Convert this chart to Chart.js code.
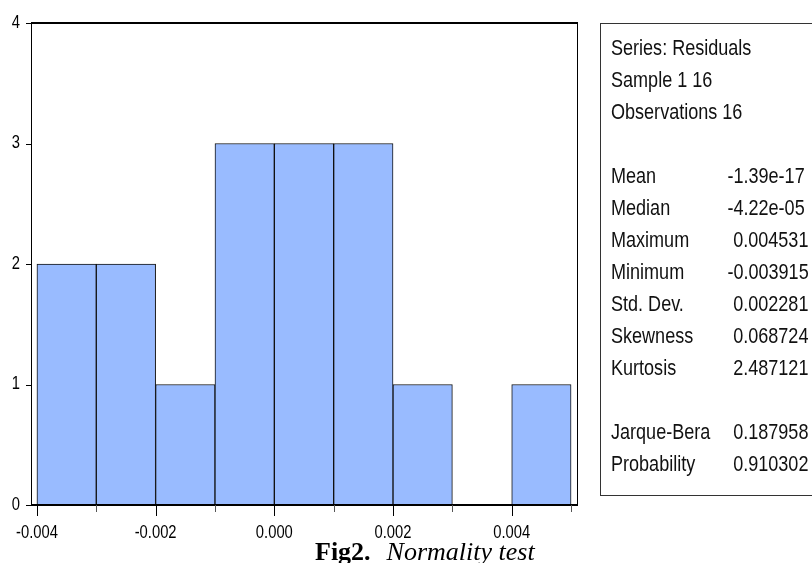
<!DOCTYPE html>
<html>
<head>
<meta charset="utf-8">
<script src="https://cdn.jsdelivr.net/npm/chart.js@4/dist/chart.umd.min.js"></script>
<style>
  body{ margin:0; background:#fff; }
  #wrap{ position:relative; width:812px; height:563px; overflow:hidden; }
  #stats{
    position:absolute; left:600px; top:23px; width:260px; height:473px;
    border:1px solid #333; box-sizing:border-box;
    padding:8px 0 0 10px;
  }
  #stats .linhas{
    transform:scaleX(0.82); transform-origin:0 0; width:300px;
    font-family:"Liberation Sans",Arial,sans-serif;
    font-size:22px; line-height:32px; color:#111; white-space:nowrap;
  }
  #stats .lbl{ display:inline-block; width:149px; }
  #stats .neg{ margin-left:-7px; }
  #caption{
    position:absolute; left:315px; top:537px;
    font-family:"Liberation Serif","Times New Roman",serif;
    font-size:26px; line-height:30px; color:#000; white-space:nowrap;
  }
  #caption b{ font-weight:bold; margin-right:16px; }
  #caption i{ font-style:italic; }
</style>
</head>
<body>
<div id="wrap">
  <canvas id="hist" width="812" height="563"></canvas>
  <div id="stats"><div class="linhas" id="linhas"></div></div>
  <div id="caption"><b>Fig2.</b><i>Normality test</i></div>
</div>
<script>
// limites das classes do histograma
var binEdges = [-0.004, -0.003, -0.002, -0.001, 0, 0.001, 0.002, 0.003, 0.004, 0.005]
// frequencia de cada classe
var counts = [2, 2, 1, 3, 3, 3, 1, 0, 1]
// rotulos do eixo x
var xTickLabels = ['-0.004', '-0.002', '0.000', '0.002', '0.004']
var yTicks = [0, 1, 2, 3, 4]

// quadro de estatisticas
var headerLines = ['Series: Residuals', 'Sample 1 16', 'Observations 16']
var statLabels = ['Mean', 'Median', 'Maximum', 'Minimum', 'Std. Dev.', 'Skewness', 'Kurtosis']
var statValues = ['-1.39e-17', '-4.22e-05', '0.004531', '-0.003915', '0.002281', '0.068724', '2.487121']
var testLabels = ['Jarque-Bera', 'Probability']
var testValues = ['0.187958', '0.910302']

var fonteEixo = '18px "Liberation Sans", Arial, sans-serif'
var estreito = 0.82

function montaQuadro(){
    var html = ''
    headerLines.forEach(function(t){ html += '<div>' + t + '</div>' })
    html += '<div>&nbsp;</div>'
    statLabels.forEach(function(t, i){
        var v = statValues[i]
        html += '<div><span class="lbl">' + t + '</span><span' + (v.charAt(0) == '-' ? ' class="neg"' : '') + '>' + v + '</span></div>'
    })
    html += '<div>&nbsp;</div>'
    testLabels.forEach(function(t, i){
        html += '<div><span class="lbl">' + t + '</span><span>' + testValues[i] + '</span></div>'
    })
    document.getElementById('linhas').innerHTML = html
}

// texto estreito (tipo Arial Narrow)
function textoEstreito(ctx, txt, x, y, align){
    ctx.save()
    ctx.translate(x, y)
    ctx.scale(estreito, 1)
    ctx.textAlign = align
    ctx.textBaseline = 'middle'
    ctx.fillText(txt, 0, 0)
    ctx.restore()
}

// moldura, marcas e rotulos dos eixos
var molduraPlugin = {
    id: 'moldura',
    afterDatasetsDraw: function(chart){
        var ctx = chart.ctx, a = chart.chartArea, xs = chart.scales.x, ys = chart.scales.y
        ctx.save()
        ctx.strokeStyle = '#000'
        ctx.lineWidth = 1
        ctx.strokeRect(a.left + 0.5, a.top + 0.5, a.right - a.left, a.bottom - a.top)
        ctx.lineWidth = 2
        ctx.beginPath()
        ctx.moveTo(a.left, a.top); ctx.lineTo(a.right + 1, a.top)
        ctx.moveTo(a.left, a.bottom); ctx.lineTo(a.right + 1, a.bottom)
        ctx.stroke()

        ctx.lineWidth = 1
        binEdges.forEach(function(e){
            var px = Math.round(xs.getPixelForValue(e)) + 0.5
            var major = xTickLabels.map(parseFloat).indexOf(e) >= 0
            ctx.strokeStyle = major ? '#000' : '#555'
            ctx.beginPath()
            ctx.moveTo(px, a.bottom)
            ctx.lineTo(px, a.bottom + (major ? 11 : 7))
            ctx.stroke()
        })
        yTicks.forEach(function(v){
            var py = Math.round(ys.getPixelForValue(v)) + 0.5
            ctx.strokeStyle = '#000'
            ctx.beginPath()
            ctx.moveTo(a.left - 5, py)
            ctx.lineTo(a.left, py)
            ctx.stroke()
        })

        ctx.fillStyle = '#000'
        ctx.font = fonteEixo
        xTickLabels.forEach(function(t){
            textoEstreito(ctx, t, xs.getPixelForValue(parseFloat(t)), 533, 'center')
        })
        yTicks.forEach(function(v){
            textoEstreito(ctx, String(v), a.left - 11, ys.getPixelForValue(v), 'right')
        })
        ctx.restore()
    }
}

function gerarHistograma(){
    var pontos = counts.map(function(c, i){
        return { x: (binEdges[i] + binEdges[i + 1]) / 2, y: c }
    })

    new Chart(document.getElementById('hist').getContext('2d'), {
        type: 'bar',
        data: {
            datasets: [{
                label: 'Residuals',
                data: pontos,
                backgroundColor: '#99bbff',
                borderColor: '#111',
                borderWidth: 1,
                borderSkipped: false,
                barPercentage: 1,
                categoryPercentage: 1
            }]
        },
        options: {
            responsive: false,
            devicePixelRatio: 1,
            animation: false,
            layout: { padding: { top: 23, right: 235, left: 0, bottom: 0 } },
            plugins: { legend: { display: false }, tooltip: { enabled: false } },
            scales: {
                x: {
                    type: 'linear',
                    offset: false,
                    min: -0.0041,
                    max: 0.0051,
                    grid: { display: false },
                    border: { display: false },
                    ticks: { display: false },
                    afterFit: function(s){ s.height = 58 }
                },
                y: {
                    min: 0,
                    max: 4,
                    grid: { display: false },
                    border: { display: false },
                    ticks: { display: false, stepSize: 1 },
                    afterFit: function(s){ s.width = 31 }
                }
            }
        },
        plugins: [molduraPlugin]
    })
}

montaQuadro()
gerarHistograma()
</script>
</body>
</html>
